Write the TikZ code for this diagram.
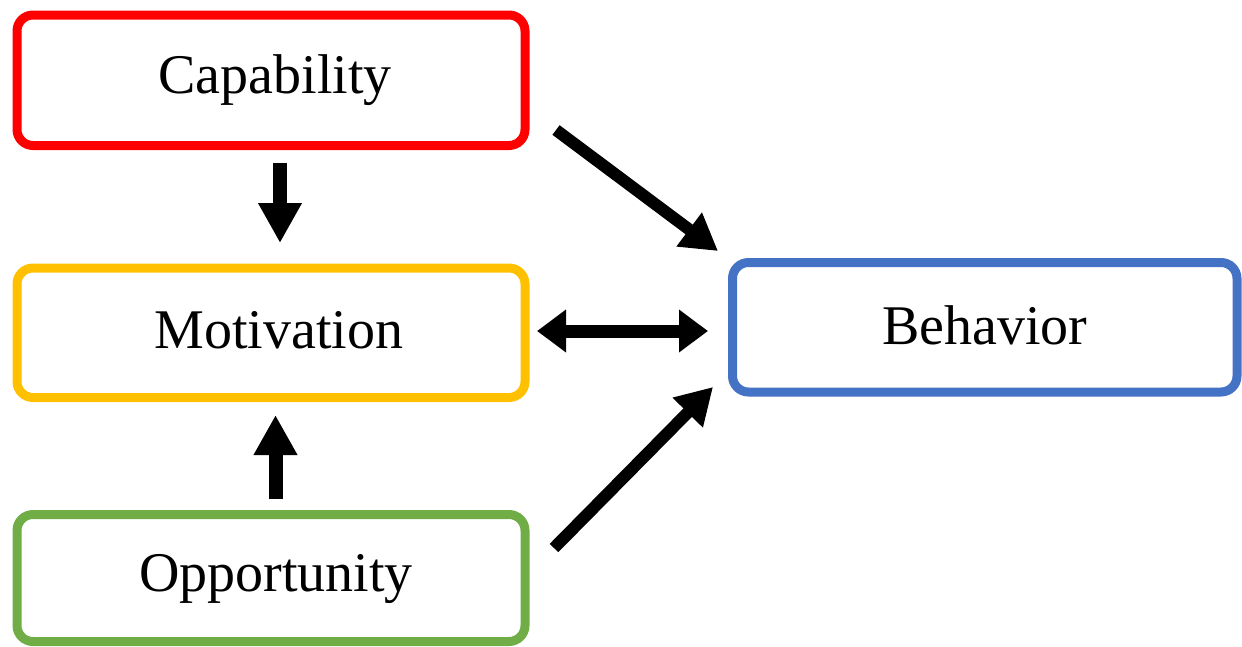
\documentclass[tikz,border=0pt]{standalone}
\usepackage{fontspec}
\setmainfont{Liberation Serif}
\usetikzlibrary{arrows.meta,calc}
\definecolor{cred}{HTML}{FF0000}
\definecolor{corange}{HTML}{FFC000}
\definecolor{cgreen}{HTML}{70AD47}
\definecolor{cblue}{HTML}{4472C4}
\begin{document}
\begin{tikzpicture}[x=1pt,y=-1pt,
  box/.style={draw, line width=9pt, rounded corners=16pt, minimum width=508pt,
    inner sep=0pt, font=\fontsize{56pt}{60pt}\selectfont, text height=39pt, text depth=5pt},
  varr/.style={line width=14pt, -{Triangle[width=41pt,length=40pt]}},
  darr/.style={line width=13pt, {Triangle[width=41pt,length=29pt]}-{Triangle[width=41pt,length=29pt]}},
  diagarr/.style={line width=12pt, -{Triangle[width=40pt,length=36pt]}}]
\useasboundingbox (0,0) rectangle (1242,646);
\node[box, draw=cred, minimum height=130.5pt] (cap) at (271,80.25) {\hspace*{8pt}\raisebox{4pt}{Capability}};
\node[box, draw=corange, minimum height=129.5pt] (mot) at (271,332.75) {\hspace*{16pt}\raisebox{1pt}{Motivation}};
\node[box, draw=cgreen, minimum height=127pt] (opp) at (271,578) {\hspace*{10pt}\raisebox{4pt}{Opportunity}};
\node[box, draw=cblue, minimum width=504.5pt, minimum height=129.5pt] (beh) at (984.75,327.25) {Behavior};
\draw[varr] ($(cap.south)+(9,13)$) -- ($(mot.north)+(9,-20.5)$);
\draw[varr] ($(opp.north)+(4.5,-11)$) -- ($(mot.south)+(4.5,13)$);
\draw[darr] ($(mot.east)+(7.5,-1.75)$) -- ($(beh.west)+(-20,3.75)$);
\draw[diagarr] ($(cap.east)+(26.5,49.75)$) -- ($(beh.west)+(-10,-76.25)$);
\draw[diagarr] ($(opp.east)+(24.5,-30)$) -- ($(beh.west)+(-15,59.75)$);
\end{tikzpicture}
\end{document}
